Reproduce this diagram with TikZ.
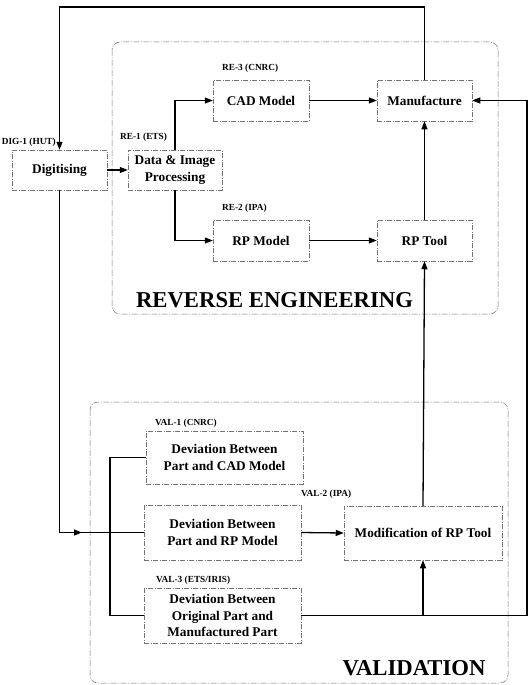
\documentclass[tikz,border=0pt]{standalone}
\usepackage{fontspec}
\setmainfont{Liberation Serif}
\usetikzlibrary{arrows.meta}
\begin{document}
\begin{tikzpicture}[x=1pt,y=-1pt,
  box/.style={draw=black!55, line width=0.5pt, dash pattern=on 5pt off 1.5pt on 1pt off 1.5pt,
    align=center, font=\fontsize{13.3}{16.5}\selectfont\bfseries, inner sep=0pt},
  grp/.style={draw=black!55, line width=0.5pt, dash pattern=on 6pt off 1.5pt on 1pt off 1.5pt, rounded corners=8pt},
  lbl/.style={font=\fontsize{9.3}{10}\selectfont\bfseries, inner sep=0pt},
  big/.style={font=\fontsize{22.7}{26}\selectfont\bfseries, inner sep=0pt},
  con/.style={line width=1.3pt},
  arr/.style={con, -{Triangle[length=8pt,width=6pt]}}]
\useasboundingbox (0,0) rectangle (529,685);
\fill[white] (0,0) rectangle (529,685);
% group frames
\draw[grp] (112,42) rectangle (498,314);
\draw[grp] (90,402) rectangle (508,683);
\node[big] (ret) at (274.5,300) {REVERSE ENGINEERING};
\node[big] (valt) at (414,668) {VALIDATION};
% boxes
\node[box, minimum width=95pt, minimum height=40pt] (dig) at (59.5,170) {Digitising};
\node[box, minimum width=94pt, minimum height=40pt] (dip) at (175,170) {Data \& Image\\Processing};
\node[box, minimum width=96pt, minimum height=41pt] (cad) at (261,100.5) {CAD Model};
\node[box, minimum width=95pt, minimum height=41pt] (man) at (424.5,100.5) {Manufacture};
\node[box, minimum width=96pt, minimum height=41pt] (rpm) at (261,240.5) {RP Model};
\node[box, minimum width=95pt, minimum height=41pt] (rpt) at (424.5,240.5) {RP Tool};
\node[box, minimum width=157pt, minimum height=53pt] (devcad) at (224.5,457.5) {Deviation Between\\Part and CAD Model};
\node[box, minimum width=157pt, minimum height=55pt] (devrp) at (222.5,532.5) {Deviation Between\\Part and RP Model};
\node[box, minimum width=158pt, minimum height=54pt] (mod) at (423,533) {Modification of RP Tool};
\node[box, minimum width=157pt, minimum height=55pt] (devorig) at (222.5,615.5) {Deviation Between\\Original Part and\\Manufactured Part};
% labels
\node[lbl, anchor=east] (l0) at (56,142) {DIG-1 (HUT)};
\node[lbl, anchor=west] (l1) at (120,137) {RE-1 (ETS)};
\node[lbl, anchor=west] (l2) at (222,68) {RE-3 (CNRC)};
\node[lbl, anchor=west] (l3) at (222,208) {RE-2 (IPA)};
\node[lbl, anchor=west] (l4) at (155,423) {VAL-1 (CNRC)};
\node[lbl, anchor=west] (l5) at (301,494) {VAL-2 (IPA)};
\node[lbl, anchor=west] (l6) at (156,580) {VAL-3 (ETS/IRIS)};
% coordinates
\coordinate (topy) at (0,7);
\coordinate (rx) at (527,0);
\coordinate (busx) at (110,0);
\coordinate (amid) at (82,532.5);
% connectors
\draw[arr] (man.north) -- (man.north |- topy) -| (dig.north);
\draw[arr] (dig.east) -- (dip.west);
\draw[arr] (dip.north) |- (cad.west);
\draw[arr] (dip.south) |- (rpm.west);
\draw[arr] (cad.east) -- (man.west);
\draw[arr] (rpm.east) -- (rpt.west);
\draw[arr] (rpt.north) -- (man.south);
\draw[arr] (mod.north) -- (rpt.south);
\draw[con] (dig.south) |- (devrp.west);
\draw[arr] (dig.south |- devrp.west) -- (amid);
\draw[con] (devcad.west) -- (devcad.west -| busx) |- (devorig.west);
\draw[arr] (devrp.east) -- (mod.west);
\draw[arr] (devorig.east) -- (devorig.east -| rx) |- (man.east);
\draw[arr] (mod.south |- devorig.east) -- (mod.south);
\end{tikzpicture}
\end{document}
